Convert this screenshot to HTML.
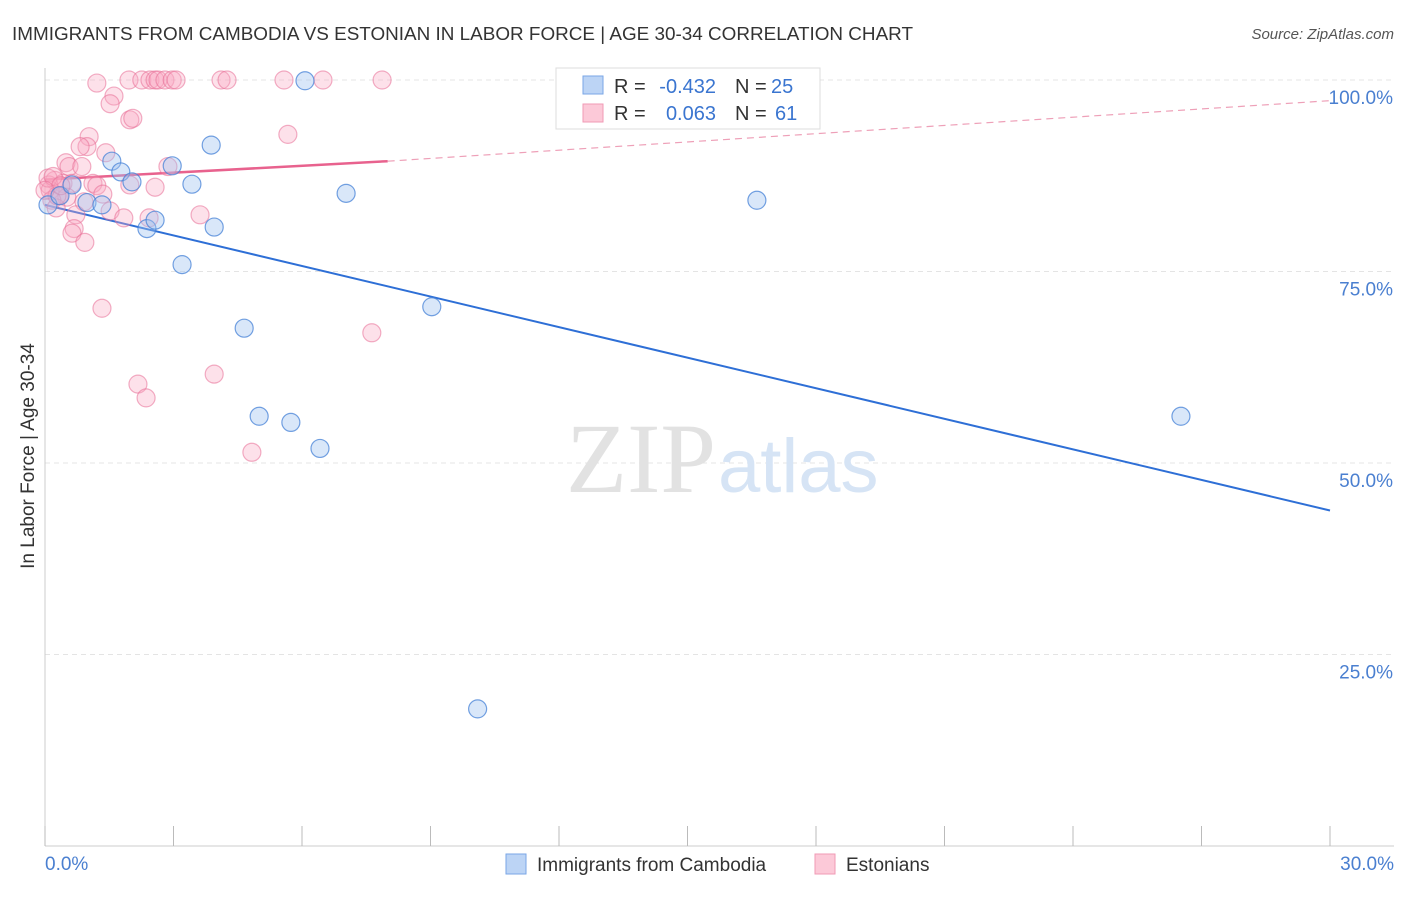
<!DOCTYPE html>
<html><head><meta charset="utf-8"><style>
body{margin:0;background:#fff;font-family:"Liberation Sans",sans-serif}
</style></head><body>
<svg width="1406" height="892" font-family="Liberation Sans, sans-serif">
<text x="12" y="40" font-size="18" fill="#333" textLength="901" lengthAdjust="spacingAndGlyphs">IMMIGRANTS FROM CAMBODIA VS ESTONIAN IN LABOR FORCE | AGE 30-34 CORRELATION CHART</text>
<text x="1394" y="39" font-size="15" fill="#555" font-style="italic" text-anchor="end">Source: ZipAtlas.com</text>
<g id="grid"></g>
<text x="716" y="492" font-size="100" fill="#e2e2e2" text-anchor="end" font-family="Liberation Serif, serif">ZIP</text>
<text x="718" y="492" font-size="76" fill="#d6e4f5">atlas</text>
<line x1="45" y1="68" x2="45" y2="846" stroke="#ccc"/>
<line x1="45" y1="846" x2="1394" y2="846" stroke="#ccc"/>
<g id="ticks"></g>
<g id="lines"></g>
<g id="pts"></g>
<text x="34" y="456" font-size="19" fill="#333" transform="rotate(-90 34 456)" text-anchor="middle">In Labor Force | Age 30-34</text>
<text x="45" y="870" font-size="19" fill="#4a7fd0">0.0%</text>
<text x="1394" y="870" font-size="19" fill="#4a7fd0" text-anchor="end">30.0%</text>
<g>
<rect x="556" y="68" width="264" height="61" fill="#fff" stroke="#ddd"/>
<rect x="583" y="76" width="20" height="18" fill="#bcd4f5" stroke="#7aa6e6"/>
<rect x="583" y="104" width="20" height="18" fill="#fcc9d8" stroke="#f09ab5"/>
<text x="614" y="93" font-size="20" fill="#333">R =</text>
<text x="716" y="93" font-size="20" fill="#3a75d0" text-anchor="end">-0.432</text>
<text x="735" y="93" font-size="20" fill="#333">N =</text>
<text x="771" y="93" font-size="20" fill="#3a75d0">25</text>
<text x="614" y="120" font-size="20" fill="#333">R =</text>
<text x="716" y="120" font-size="20" fill="#3a75d0" text-anchor="end">0.063</text>
<text x="735" y="120" font-size="20" fill="#333">N =</text>
<text x="775" y="120" font-size="20" fill="#3a75d0">61</text>
</g>
<g>
<rect x="506" y="854" width="20" height="20" fill="#bcd4f5" stroke="#7aa6e6"/>
<text x="537" y="871" font-size="19" fill="#333">Immigrants from Cambodia</text>
<rect x="815" y="854" width="20" height="20" fill="#fcc9d8" stroke="#f09ab5"/>
<text x="846" y="871" font-size="19" fill="#333">Estonians</text>
</g>
</svg>
<script>
const yTicks=[25,50,75,100];
const yTickLabels=["25.0%","50.0%","75.0%","100.0%"];
const xTicks=[0,3,6,9,12,15,18,21,24,27,30];
const blueX=[0.07,0.35,0.63,0.98,1.33,1.56,1.77,2.03,2.38,2.57,2.97,3.2,3.43,3.88,3.95,4.65,5.0,5.74,6.07,6.42,7.03,9.03,10.1,16.62,26.52];
const blueY=[83.7,84.9,86.3,84.0,83.7,89.4,88.0,86.7,80.6,81.7,88.8,75.9,86.4,91.5,80.8,67.6,56.1,55.3,99.9,51.9,85.2,70.4,17.9,84.3,56.1];
const pinkX=[1.21,1.96,2.26,2.45,2.57,2.64,2.8,2.97,3.06,4.11,4.25,5.58,6.49,7.87,1.61,1.52,1.98,2.05,1.03,0.98,0.82,0.49,0.56,0.86,5.67,1.42,2.87,0.23,0.42,0.63,1.12,1.21,1.98,2.57,1.35,0.33,0.51,0.91,0.09,0.12,0.16,0.26,1.52,1.84,2.43,3.62,0.72,0.68,0.63,0.93,1.33,2.17,2.36,3.95,4.83,7.63,0.07,0.19,0.28,0.37,0.0];
const pinkY=[99.6,100,100,100,100,100,100,100,100,100,100,100,100,100,97.9,96.9,94.8,95.0,92.6,91.3,91.3,89.2,88.7,88.7,92.9,90.5,88.7,86.9,86.5,86.5,86.5,86.2,86.3,86.0,85.1,84.9,84.7,84.1,86.3,85.6,84.3,83.3,82.9,82.0,82.0,82.4,82.4,80.6,80.0,78.8,70.2,60.3,58.5,61.6,51.4,67.0,87.2,87.4,84.9,86.2,85.6];
const blueLine=[[0,83.7],[30,43.8]];
const pinkSolid=[[0,87.0],[8,89.4]];
const pinkDash=[[8,89.4],[30,97.3]];
const X=v=>45+v/30*1285, Y=v=>846-v*7.66;
const NS="http://www.w3.org/2000/svg";
function mk(t,a,p){const e=document.createElementNS(NS,t);for(const k in a)e.setAttribute(k,a[k]);document.getElementById(p).appendChild(e);return e;}
yTicks.forEach((t,i)=>{
 const l=mk('line',{x1:45,x2:1394,y1:Y(t),y2:Y(t),stroke:'#e4e4e4','stroke-dasharray':'5,4'},'grid');
 
 
 const tx=mk('text',{x:1393,y:Y(t)+24,'font-size':19,fill:'#4a7fd0','text-anchor':'end'},'grid');
 tx.textContent=yTickLabels[i];
 
 
});
xTicks.forEach(t=>{
 const l=mk('line',{x1:X(t),x2:X(t),y1:826,y2:846,stroke:'#bbb'},'ticks');
 
 
});
function ln(p,c,w,d,n){const l=mk('line',{x1:X(p[0][0]),y1:Y(p[0][1]),x2:X(p[1][0]),y2:Y(p[1][1]),stroke:c,'stroke-width':w},'lines');if(d)l.setAttribute('stroke-dasharray',d);
 
 }
ln(blueLine,'#2e6fd6',2,null,'trend-cambodia');
ln(pinkSolid,'#e8628e',2.5,null,'trend-estonians');
ln(pinkDash,'#eea0b8',1.2,'7,5','trend-estonians-extension');
pinkX.forEach((x,i)=>{const c=mk('circle',{cx:X(x),cy:Y(pinkY[i]),r:9,fill:'rgba(248,170,195,0.35)',stroke:'rgba(232,110,150,0.55)','stroke-width':1.2},'pts');
 
 });
blueX.forEach((x,i)=>{const c=mk('circle',{cx:X(x),cy:Y(blueY[i]),r:9,fill:'rgba(160,195,240,0.4)',stroke:'rgba(70,130,215,0.75)','stroke-width':1.2},'pts');
 
 });
</script>
</body></html>
